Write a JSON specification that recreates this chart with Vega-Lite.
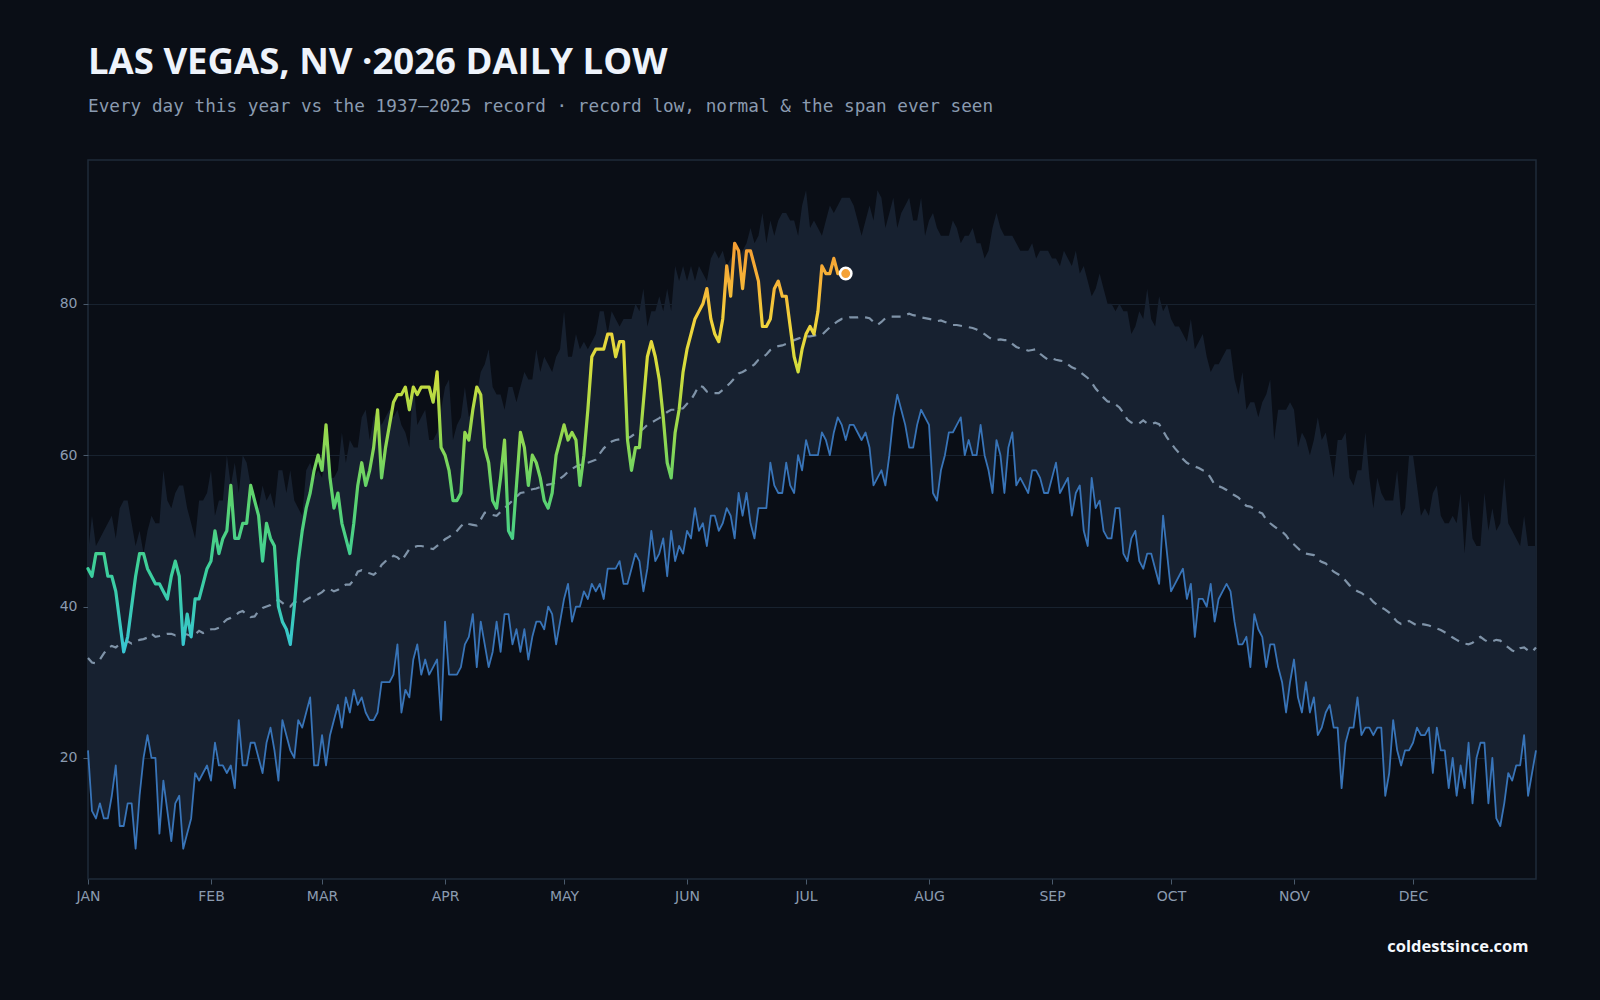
{
  "$schema": "https://vega.github.io/schema/vega-lite/v6.json",
  "width": 1448,
  "height": 719,
  "autosize": {"type": "none"},
  "padding": {"left": 88, "top": 160, "right": 64, "bottom": 121},
  "background": "#0a0e16",
  "title": {
    "text": "LAS VEGAS, NV ·2026 DAILY LOW",
    "subtitle": "Every day this year vs the 1937–2025 record · record low, normal & the span ever seen",
    "anchor": "start",
    "frame": "group",
    "font": "Open Sans",
    "fontSize": 36.5,
    "fontWeight": 700,
    "color": "#eef3fb",
    "subtitleFont": "DejaVu Sans Mono",
    "subtitleFontSize": 17.7,
    "subtitleColor": "#8a9bb0",
    "subtitlePadding": 17,
    "offset": 44
  },
  "config": {
    "view": {"stroke": "#1f2b3a", "strokeWidth": 1.5, "fill": "#0a0e16"},
    "axis": {
      "labelFont": "DejaVu Sans",
      "labelFontSize": 14,
      "labelColor": "#8b9bb0",
      "tickColor": "#4a5a6c",
      "tickSize": 5,
      "domain": false
    }
  },
  "data": {
    "values": [
      {"d":0,"lo":21,"hi":47,"n":33.2,"y":45},{"d":1,"lo":13,"hi":52,"n":32.6,"y":44},{"d":2,"lo":12,"hi":48,"n":32.5,"y":47},{"d":3,"lo":14,"hi":49,"n":33.0,"y":47},{"d":4,"lo":12,"hi":50,"n":33.8,"y":47},{"d":5,"lo":12,"hi":51,"n":34.5,"y":44},{"d":6,"lo":15,"hi":52,"n":34.8,"y":44},{"d":7,"lo":19,"hi":49,"n":34.6,"y":42},{"d":8,"lo":11,"hi":53,"n":35.0,"y":38},{"d":9,"lo":11,"hi":54,"n":35.0,"y":34},
      {"d":10,"lo":14,"hi":54,"n":35.4,"y":36},{"d":11,"lo":14,"hi":51,"n":35.1,"y":40},{"d":12,"lo":8,"hi":48,"n":35.3,"y":44},{"d":13,"lo":15,"hi":50,"n":35.6,"y":47},{"d":14,"lo":20,"hi":47,"n":35.7,"y":47},{"d":15,"lo":23,"hi":50,"n":35.9,"y":45},{"d":16,"lo":20,"hi":52,"n":36.4,"y":44},{"d":17,"lo":20,"hi":51,"n":36.0,"y":43},{"d":18,"lo":10,"hi":51,"n":36.1,"y":43},{"d":19,"lo":17,"hi":58,"n":36.3,"y":42},
      {"d":20,"lo":13,"hi":54,"n":36.4,"y":41},{"d":21,"lo":9,"hi":53,"n":36.4,"y":44},{"d":22,"lo":14,"hi":55,"n":36.2,"y":46},{"d":23,"lo":15,"hi":56,"n":36.5,"y":44},{"d":24,"lo":8,"hi":56,"n":36.4,"y":35},{"d":25,"lo":10,"hi":53,"n":36.3,"y":39},{"d":26,"lo":12,"hi":51,"n":36.1,"y":36},{"d":27,"lo":18,"hi":49,"n":36.3,"y":41},{"d":28,"lo":17,"hi":54,"n":36.8,"y":41},{"d":29,"lo":18,"hi":54,"n":36.5,"y":43},
      {"d":30,"lo":19,"hi":55,"n":36.7,"y":45},{"d":31,"lo":17,"hi":58,"n":37.0,"y":46},{"d":32,"lo":22,"hi":52,"n":37.0,"y":50},{"d":33,"lo":19,"hi":54,"n":37.2,"y":47},{"d":34,"lo":19,"hi":54,"n":37.8,"y":49},{"d":35,"lo":18,"hi":60,"n":38.3,"y":50},{"d":36,"lo":19,"hi":56,"n":38.5,"y":56},{"d":37,"lo":16,"hi":59,"n":38.8,"y":49},{"d":38,"lo":25,"hi":55,"n":39.2,"y":49},{"d":39,"lo":19,"hi":60,"n":39.4,"y":51},
      {"d":40,"lo":19,"hi":59,"n":39.0,"y":51},{"d":41,"lo":22,"hi":56,"n":38.6,"y":56},{"d":42,"lo":22,"hi":54,"n":38.7,"y":54},{"d":43,"lo":20,"hi":53,"n":39.4,"y":52},{"d":44,"lo":18,"hi":56,"n":39.8,"y":46},{"d":45,"lo":22,"hi":54,"n":40.0,"y":51},{"d":46,"lo":24,"hi":55,"n":40.2,"y":49},{"d":47,"lo":21,"hi":53,"n":40.6,"y":48},{"d":48,"lo":17,"hi":58,"n":40.9,"y":40},{"d":49,"lo":25,"hi":58,"n":40.5,"y":38},
      {"d":50,"lo":23,"hi":55,"n":40.0,"y":37},{"d":51,"lo":21,"hi":58,"n":40.0,"y":35},{"d":52,"lo":20,"hi":54,"n":40.6,"y":40},{"d":53,"lo":25,"hi":53,"n":40.6,"y":46},{"d":54,"lo":24,"hi":52,"n":40.5,"y":50},{"d":55,"lo":26,"hi":58,"n":40.9,"y":53},{"d":56,"lo":28,"hi":59,"n":41.2,"y":55},{"d":57,"lo":19,"hi":57,"n":41.4,"y":58},{"d":58,"lo":19,"hi":58,"n":41.6,"y":60},{"d":59,"lo":23,"hi":57,"n":41.9,"y":58},
      {"d":60,"lo":19,"hi":61,"n":42.4,"y":64},{"d":61,"lo":23,"hi":57,"n":42.3,"y":57},{"d":62,"lo":25,"hi":57,"n":42.0,"y":53},{"d":63,"lo":27,"hi":58,"n":42.2,"y":55},{"d":64,"lo":24,"hi":63,"n":42.6,"y":51},{"d":65,"lo":28,"hi":59,"n":42.9,"y":49},{"d":66,"lo":26,"hi":62,"n":42.9,"y":47},{"d":67,"lo":29,"hi":61,"n":43.5,"y":51},{"d":68,"lo":27,"hi":61,"n":44.6,"y":56},{"d":69,"lo":28,"hi":65,"n":44.8,"y":59},
      {"d":70,"lo":26,"hi":66,"n":44.5,"y":56},{"d":71,"lo":25,"hi":62,"n":44.4,"y":58},{"d":72,"lo":25,"hi":65,"n":44.2,"y":61},{"d":73,"lo":26,"hi":66,"n":44.6,"y":66},{"d":74,"lo":30,"hi":64,"n":45.5,"y":57},{"d":75,"lo":30,"hi":65,"n":46.0,"y":61},{"d":76,"lo":30,"hi":66,"n":46.2,"y":64},{"d":77,"lo":31,"hi":65,"n":46.7,"y":67},{"d":78,"lo":35,"hi":66,"n":46.5,"y":68},{"d":79,"lo":26,"hi":64,"n":46.0,"y":68},
      {"d":80,"lo":29,"hi":63,"n":46.8,"y":69},{"d":81,"lo":28,"hi":61,"n":47.6,"y":66},{"d":82,"lo":33,"hi":70,"n":47.8,"y":69},{"d":83,"lo":35,"hi":64,"n":48.0,"y":68},{"d":84,"lo":31,"hi":65,"n":48.0,"y":69},{"d":85,"lo":33,"hi":66,"n":47.9,"y":69},{"d":86,"lo":31,"hi":62,"n":47.7,"y":69},{"d":87,"lo":32,"hi":62,"n":47.6,"y":67},{"d":88,"lo":33,"hi":63,"n":48.0,"y":71},{"d":89,"lo":25,"hi":66,"n":48.4,"y":61},
      {"d":90,"lo":38,"hi":69,"n":48.9,"y":60},{"d":91,"lo":31,"hi":70,"n":49.2,"y":58},{"d":92,"lo":31,"hi":62,"n":49.6,"y":54},{"d":93,"lo":31,"hi":64,"n":50.0,"y":54},{"d":94,"lo":32,"hi":65,"n":50.6,"y":55},{"d":95,"lo":35,"hi":69,"n":51.1,"y":63},{"d":96,"lo":36,"hi":65,"n":50.9,"y":62},{"d":97,"lo":39,"hi":66,"n":50.8,"y":66},{"d":98,"lo":32,"hi":68,"n":50.7,"y":69},{"d":99,"lo":38,"hi":71,"n":51.5,"y":68},
      {"d":100,"lo":35,"hi":72,"n":52.4,"y":61},{"d":101,"lo":32,"hi":74,"n":52.3,"y":59},{"d":102,"lo":34,"hi":69,"n":52.1,"y":54},{"d":103,"lo":38,"hi":68,"n":52.0,"y":53},{"d":104,"lo":34,"hi":68,"n":52.5,"y":57},{"d":105,"lo":39,"hi":66,"n":53.0,"y":62},{"d":106,"lo":39,"hi":69,"n":53.5,"y":50},{"d":107,"lo":35,"hi":69,"n":54.0,"y":49},{"d":108,"lo":37,"hi":67,"n":54.5,"y":56},{"d":109,"lo":34,"hi":69,"n":55.0,"y":63},
      {"d":110,"lo":37,"hi":71,"n":55.1,"y":61},{"d":111,"lo":33,"hi":70,"n":55.3,"y":56},{"d":112,"lo":36,"hi":70,"n":55.5,"y":60},{"d":113,"lo":38,"hi":74,"n":55.6,"y":59},{"d":114,"lo":38,"hi":71,"n":55.8,"y":57},{"d":115,"lo":37,"hi":73,"n":56.0,"y":54},{"d":116,"lo":40,"hi":72,"n":56.1,"y":53},{"d":117,"lo":39,"hi":71,"n":56.2,"y":55},{"d":118,"lo":35,"hi":73,"n":56.5,"y":60},{"d":119,"lo":38,"hi":74,"n":56.9,"y":62},
      {"d":120,"lo":41,"hi":79,"n":57.3,"y":64},{"d":121,"lo":43,"hi":73,"n":57.8,"y":62},{"d":122,"lo":38,"hi":73,"n":58.2,"y":63},{"d":123,"lo":40,"hi":76,"n":58.5,"y":62},{"d":124,"lo":40,"hi":74,"n":58.7,"y":56},{"d":125,"lo":42,"hi":75,"n":58.9,"y":60},{"d":126,"lo":41,"hi":74,"n":59.0,"y":66},{"d":127,"lo":43,"hi":75,"n":59.2,"y":73},{"d":128,"lo":42,"hi":76,"n":59.4,"y":74},{"d":129,"lo":43,"hi":79,"n":60.2,"y":74},
      {"d":130,"lo":41,"hi":79,"n":60.9,"y":74},{"d":131,"lo":45,"hi":76,"n":61.4,"y":76},{"d":132,"lo":45,"hi":79,"n":61.8,"y":76},{"d":133,"lo":45,"hi":78,"n":62.0,"y":73},{"d":134,"lo":46,"hi":77,"n":62.1,"y":75},{"d":135,"lo":43,"hi":78,"n":62.2,"y":75},{"d":136,"lo":43,"hi":78,"n":62.2,"y":62},{"d":137,"lo":45,"hi":78,"n":62.5,"y":58},{"d":138,"lo":47,"hi":80,"n":62.9,"y":61},{"d":139,"lo":46,"hi":79,"n":63.1,"y":61},
      {"d":140,"lo":42,"hi":82,"n":63.5,"y":67},{"d":141,"lo":45,"hi":77,"n":64.0,"y":73},{"d":142,"lo":50,"hi":79,"n":64.3,"y":75},{"d":143,"lo":46,"hi":79,"n":64.6,"y":73},{"d":144,"lo":47,"hi":81,"n":64.9,"y":70},{"d":145,"lo":49,"hi":79,"n":65.3,"y":65},{"d":146,"lo":44,"hi":82,"n":65.7,"y":59},{"d":147,"lo":50,"hi":79,"n":66.0,"y":57},{"d":148,"lo":46,"hi":85,"n":66.0,"y":63},{"d":149,"lo":48,"hi":83,"n":66.1,"y":66},
      {"d":150,"lo":47,"hi":85,"n":66.2,"y":71},{"d":151,"lo":50,"hi":83,"n":66.8,"y":74},{"d":152,"lo":49,"hi":85,"n":67.3,"y":76},{"d":153,"lo":53,"hi":83,"n":68.2,"y":78},{"d":154,"lo":50,"hi":85,"n":69.2,"y":79},{"d":155,"lo":51,"hi":84,"n":69.0,"y":80},{"d":156,"lo":48,"hi":83,"n":68.4,"y":82},{"d":157,"lo":52,"hi":86,"n":68.2,"y":78},{"d":158,"lo":52,"hi":87,"n":68.2,"y":76},{"d":159,"lo":50,"hi":86,"n":68.2,"y":75},
      {"d":160,"lo":51,"hi":87,"n":68.6,"y":78},{"d":161,"lo":53,"hi":85,"n":69.1,"y":85},{"d":162,"lo":52,"hi":86,"n":69.6,"y":81},{"d":163,"lo":49,"hi":87,"n":70.2,"y":88},{"d":164,"lo":55,"hi":86,"n":70.8,"y":87},{"d":165,"lo":52,"hi":87,"n":71.0,"y":82},{"d":166,"lo":55,"hi":88,"n":71.3,"y":87},{"d":167,"lo":51,"hi":90,"n":71.6,"y":87},{"d":168,"lo":49,"hi":88,"n":72.0,"y":85},{"d":169,"lo":53,"hi":89,"n":72.6,"y":83},
      {"d":170,"lo":53,"hi":92,"n":72.9,"y":77},{"d":171,"lo":53,"hi":88,"n":73.3,"y":77},{"d":172,"lo":59,"hi":91,"n":73.9,"y":78},{"d":173,"lo":56,"hi":89,"n":74.2,"y":82},{"d":174,"lo":55,"hi":91,"n":74.4,"y":83},{"d":175,"lo":55,"hi":92,"n":74.5,"y":81},{"d":176,"lo":59,"hi":92,"n":74.7,"y":81},{"d":177,"lo":56,"hi":91,"n":75.0,"y":77},{"d":178,"lo":55,"hi":91,"n":75.2,"y":73},{"d":179,"lo":60,"hi":89,"n":75.4,"y":71},
      {"d":180,"lo":58,"hi":93,"n":75.6,"y":74},{"d":181,"lo":62,"hi":95,"n":75.7,"y":76},{"d":182,"lo":60,"hi":90,"n":75.7,"y":77},{"d":183,"lo":60,"hi":91,"n":75.8,"y":76},{"d":184,"lo":60,"hi":90,"n":75.9,"y":79},{"d":185,"lo":63,"hi":89,"n":75.9,"y":85},{"d":186,"lo":62,"hi":91,"n":76.4,"y":84},{"d":187,"lo":60,"hi":93,"n":76.9,"y":84},{"d":188,"lo":63,"hi":92,"n":77.3,"y":86},{"d":189,"lo":65,"hi":93,"n":77.7,"y":84},
      {"d":190,"lo":64,"hi":94,"n":78.0,"y":84},{"d":191,"lo":62,"hi":94,"n":78.0,"y":84},{"d":192,"lo":64,"hi":94,"n":78.2},{"d":193,"lo":64,"hi":93,"n":78.2},{"d":194,"lo":63,"hi":91,"n":78.2},{"d":195,"lo":62,"hi":89,"n":78.3},{"d":196,"lo":63,"hi":91,"n":78.2},{"d":197,"lo":61,"hi":93,"n":78.1},{"d":198,"lo":56,"hi":91,"n":77.6},{"d":199,"lo":57,"hi":95,"n":77.2},
      {"d":200,"lo":58,"hi":94,"n":77.6},{"d":201,"lo":56,"hi":90,"n":78.1},{"d":202,"lo":60,"hi":92,"n":78.3},{"d":203,"lo":65,"hi":94,"n":78.3},{"d":204,"lo":68,"hi":90,"n":78.3},{"d":205,"lo":66,"hi":92,"n":78.3},{"d":206,"lo":64,"hi":93,"n":78.5},{"d":207,"lo":61,"hi":94,"n":78.7},{"d":208,"lo":61,"hi":91,"n":78.5},{"d":209,"lo":64,"hi":91,"n":78.4},
      {"d":210,"lo":66,"hi":94,"n":78.2},{"d":211,"lo":65,"hi":89,"n":78.1},{"d":212,"lo":64,"hi":91,"n":78.0},{"d":213,"lo":55,"hi":92,"n":77.9},{"d":214,"lo":54,"hi":90,"n":77.7},{"d":215,"lo":58,"hi":89,"n":77.8},{"d":216,"lo":60,"hi":89,"n":77.6},{"d":217,"lo":63,"hi":89,"n":77.4},{"d":218,"lo":63,"hi":91,"n":77.2},{"d":219,"lo":64,"hi":90,"n":77.2},
      {"d":220,"lo":65,"hi":88,"n":77.1},{"d":221,"lo":60,"hi":89,"n":77.0},{"d":222,"lo":62,"hi":89,"n":76.9},{"d":223,"lo":60,"hi":90,"n":76.8},{"d":224,"lo":60,"hi":88,"n":76.6},{"d":225,"lo":64,"hi":88,"n":76.3},{"d":226,"lo":60,"hi":86,"n":76.0},{"d":227,"lo":58,"hi":87,"n":75.6},{"d":228,"lo":55,"hi":90,"n":75.3},{"d":229,"lo":62,"hi":92,"n":75.2},
      {"d":230,"lo":60,"hi":90,"n":75.3},{"d":231,"lo":55,"hi":89,"n":75.2},{"d":232,"lo":61,"hi":89,"n":75.2},{"d":233,"lo":63,"hi":89,"n":74.7},{"d":234,"lo":56,"hi":88,"n":74.3},{"d":235,"lo":57,"hi":87,"n":74.1},{"d":236,"lo":56,"hi":87,"n":74.0},{"d":237,"lo":55,"hi":87,"n":73.8},{"d":238,"lo":58,"hi":88,"n":73.9},{"d":239,"lo":58,"hi":86,"n":74.0},
      {"d":240,"lo":57,"hi":87,"n":73.4},{"d":241,"lo":55,"hi":87,"n":73.0},{"d":242,"lo":55,"hi":87,"n":72.6},{"d":243,"lo":57,"hi":86,"n":72.8},{"d":244,"lo":59,"hi":86,"n":72.6},{"d":245,"lo":55,"hi":85,"n":72.5},{"d":246,"lo":56,"hi":87,"n":72.4},{"d":247,"lo":57,"hi":86,"n":72.0},{"d":248,"lo":52,"hi":85,"n":71.6},{"d":249,"lo":55,"hi":87,"n":71.4},
      {"d":250,"lo":56,"hi":84,"n":71.0},{"d":251,"lo":50,"hi":85,"n":70.6},{"d":252,"lo":48,"hi":83,"n":70.2},{"d":253,"lo":57,"hi":81,"n":69.6},{"d":254,"lo":53,"hi":82,"n":68.8},{"d":255,"lo":54,"hi":84,"n":68.2},{"d":256,"lo":50,"hi":82,"n":67.6},{"d":257,"lo":49,"hi":80,"n":67.1},{"d":258,"lo":49,"hi":80,"n":67.0},{"d":259,"lo":53,"hi":79,"n":66.7},
      {"d":260,"lo":53,"hi":80,"n":66.3},{"d":261,"lo":47,"hi":79,"n":65.6},{"d":262,"lo":46,"hi":79,"n":64.7},{"d":263,"lo":49,"hi":76,"n":64.3},{"d":264,"lo":50,"hi":77,"n":64.1},{"d":265,"lo":46,"hi":79,"n":64.2},{"d":266,"lo":45,"hi":78,"n":64.6},{"d":267,"lo":47,"hi":82,"n":64.2},{"d":268,"lo":47,"hi":78,"n":64.1},{"d":269,"lo":45,"hi":77,"n":64.3},
      {"d":270,"lo":43,"hi":81,"n":64.1},{"d":271,"lo":52,"hi":79,"n":63.2},{"d":272,"lo":47,"hi":80,"n":62.3},{"d":273,"lo":42,"hi":78,"n":61.6},{"d":274,"lo":43,"hi":77,"n":60.9},{"d":275,"lo":44,"hi":77,"n":60.3},{"d":276,"lo":45,"hi":76,"n":59.5},{"d":277,"lo":41,"hi":75,"n":59.0},{"d":278,"lo":43,"hi":78,"n":58.7},{"d":279,"lo":36,"hi":74,"n":58.5},
      {"d":280,"lo":41,"hi":75,"n":58.3},{"d":281,"lo":41,"hi":76,"n":58.0},{"d":282,"lo":40,"hi":73,"n":57.8},{"d":283,"lo":43,"hi":71,"n":57.0},{"d":284,"lo":38,"hi":72,"n":56.1},{"d":285,"lo":41,"hi":72,"n":55.9},{"d":286,"lo":42,"hi":73,"n":55.7},{"d":287,"lo":43,"hi":74,"n":55.4},{"d":288,"lo":42,"hi":74,"n":55.0},{"d":289,"lo":38,"hi":70,"n":54.7},
      {"d":290,"lo":35,"hi":68,"n":54.4},{"d":291,"lo":35,"hi":71,"n":53.8},{"d":292,"lo":36,"hi":66,"n":53.3},{"d":293,"lo":32,"hi":67,"n":53.2},{"d":294,"lo":39,"hi":67,"n":52.9},{"d":295,"lo":37,"hi":65,"n":52.5},{"d":296,"lo":36,"hi":67,"n":52.3},{"d":297,"lo":32,"hi":68,"n":51.5},{"d":298,"lo":35,"hi":70,"n":51.0},{"d":299,"lo":35,"hi":62,"n":50.6},
      {"d":300,"lo":32,"hi":66,"n":50.2},{"d":301,"lo":30,"hi":66,"n":49.9},{"d":302,"lo":26,"hi":66,"n":49.4},{"d":303,"lo":30,"hi":67,"n":48.6},{"d":304,"lo":33,"hi":66,"n":48.2},{"d":305,"lo":28,"hi":61,"n":47.7},{"d":306,"lo":26,"hi":63,"n":47.2},{"d":307,"lo":30,"hi":62,"n":47.0},{"d":308,"lo":26,"hi":60,"n":46.9},{"d":309,"lo":28,"hi":62,"n":46.8},
      {"d":310,"lo":23,"hi":65,"n":46.2},{"d":311,"lo":24,"hi":62,"n":45.9},{"d":312,"lo":26,"hi":63,"n":45.7},{"d":313,"lo":27,"hi":60,"n":45.1},{"d":314,"lo":24,"hi":57,"n":44.6},{"d":315,"lo":24,"hi":62,"n":44.3},{"d":316,"lo":16,"hi":62,"n":44.0},{"d":317,"lo":22,"hi":63,"n":43.4},{"d":318,"lo":24,"hi":57,"n":42.8},{"d":319,"lo":24,"hi":56,"n":42.4},
      {"d":320,"lo":28,"hi":58,"n":42.0},{"d":321,"lo":23,"hi":58,"n":41.8},{"d":322,"lo":24,"hi":63,"n":41.4},{"d":323,"lo":24,"hi":57,"n":41.2},{"d":324,"lo":23,"hi":53,"n":40.6},{"d":325,"lo":24,"hi":57,"n":40.2},{"d":326,"lo":24,"hi":55,"n":39.9},{"d":327,"lo":15,"hi":54,"n":39.6},{"d":328,"lo":18,"hi":54,"n":39.2},{"d":329,"lo":25,"hi":54,"n":38.6},
      {"d":330,"lo":21,"hi":58,"n":38.0},{"d":331,"lo":19,"hi":52,"n":37.7},{"d":332,"lo":21,"hi":53,"n":37.9},{"d":333,"lo":21,"hi":60,"n":38.1},{"d":334,"lo":22,"hi":60,"n":37.8},{"d":335,"lo":24,"hi":56,"n":37.5},{"d":336,"lo":23,"hi":52,"n":37.7},{"d":337,"lo":23,"hi":53,"n":37.6},{"d":338,"lo":24,"hi":52,"n":37.5},{"d":339,"lo":18,"hi":55,"n":37.3},
      {"d":340,"lo":24,"hi":56,"n":37.1},{"d":341,"lo":21,"hi":52,"n":36.9},{"d":342,"lo":21,"hi":51,"n":36.6},{"d":343,"lo":16,"hi":51,"n":36.3},{"d":344,"lo":20,"hi":52,"n":35.9},{"d":345,"lo":15,"hi":51,"n":35.6},{"d":346,"lo":19,"hi":55,"n":35.3},{"d":347,"lo":16,"hi":47,"n":35.1},{"d":348,"lo":22,"hi":54,"n":35.0},{"d":349,"lo":14,"hi":49,"n":35.2},
      {"d":350,"lo":20,"hi":48,"n":35.7},{"d":351,"lo":22,"hi":48,"n":36.0},{"d":352,"lo":22,"hi":55,"n":35.6},{"d":353,"lo":14,"hi":50,"n":35.3},{"d":354,"lo":20,"hi":53,"n":35.4},{"d":355,"lo":12,"hi":50,"n":35.6},{"d":356,"lo":11,"hi":51,"n":35.5},{"d":357,"lo":14,"hi":57,"n":35.0},{"d":358,"lo":18,"hi":51,"n":34.6},{"d":359,"lo":17,"hi":50,"n":34.2},
      {"d":360,"lo":19,"hi":49,"n":34.0},{"d":361,"lo":19,"hi":48,"n":34.5},{"d":362,"lo":23,"hi":52,"n":34.6},{"d":363,"lo":15,"hi":48,"n":34.2},{"d":364,"lo":18,"hi":48,"n":34.0},{"d":365,"lo":21,"hi":48,"n":34.6}
    ]
  },
  "encoding": {
    "x": {
      "field": "d",
      "type": "quantitative",
      "scale": {"domain": [0, 365], "nice": false, "zero": false},
      "axis": {
        "values": [0, 31, 59, 90, 120, 151, 181, 212, 243, 273, 304, 334],
        "labelExpr": "upper(timeFormat(datetime(2026, 0, 1 + datum.value), '%b'))",
        "grid": false,
        "labelPadding": 5,
        "labelFlush": false,
        "title": "coldestsince.com",
        "titleFont": "Open Sans",
        "titleFontSize": 16.5,
        "titleFontWeight": 700,
        "titleColor": "#f4f7fc",
        "titleAnchor": "end",
        "titleAlign": "right",
        "titleBaseline": "alphabetic",
        "titleX": 1440,
        "titleY": 72
      }
    }
  },
  "layer": [
    {
      "mark": {"type": "area", "color": "#172130", "opacity": 1},
      "encoding": {
        "y": {
          "field": "lo",
          "type": "quantitative",
          "scale": {"domain": [4, 99], "nice": false, "zero": false},
          "axis": {
            "values": [20, 40, 60, 80],
            "grid": true,
            "gridColor": "#18222f",
            "gridWidth": 1.2,
            "labelPadding": 6,
            "title": null
          }
        },
        "y2": {"field": "hi"}
      }
    },
    {
      "mark": {"type": "line", "color": "#7f93a8", "strokeWidth": 2.2, "strokeDash": [9, 7]},
      "encoding": {"y": {"field": "n", "type": "quantitative", "title": null}}
    },
    {
      "mark": {"type": "line", "color": "#3874b8", "strokeWidth": 1.8, "strokeJoin": "round"},
      "encoding": {"y": {"field": "lo", "type": "quantitative", "title": null}}
    },
    {
      "transform": [{"filter": "isValid(datum.y)"}],
      "mark": {
        "type": "line",
        "strokeWidth": 3.2,
        "strokeJoin": "round",
        "strokeCap": "round",
        "color": {
          "gradient": "linear",
          "x1": 0, "y1": 1, "x2": 0, "y2": 0,
          "stops": [
            {"offset": 0, "color": "#38c6d4"},
            {"offset": 0.2, "color": "#3ccf9c"},
            {"offset": 0.38, "color": "#5cd36e"},
            {"offset": 0.55, "color": "#9ad94c"},
            {"offset": 0.7, "color": "#d6dd3c"},
            {"offset": 0.8, "color": "#f0d43c"},
            {"offset": 0.9, "color": "#f6b538"},
            {"offset": 1, "color": "#f59d32"}
          ]
        }
      },
      "encoding": {"y": {"field": "y", "type": "quantitative", "title": null}}
    },
    {
      "transform": [{"filter": "datum.d == 191"}],
      "mark": {"type": "point", "filled": true, "fill": "#f5a236", "stroke": "#ffffff", "strokeWidth": 2.5, "size": 130, "opacity": 1},
      "encoding": {"y": {"field": "y", "type": "quantitative", "title": null}}
    }
  ]
}
